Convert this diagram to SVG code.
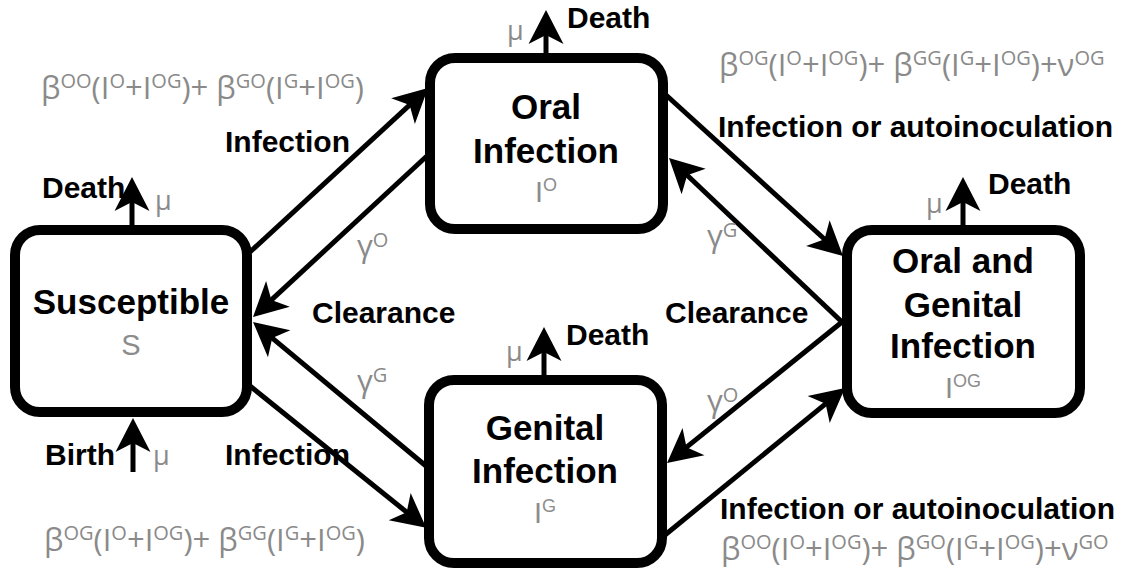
<svg xmlns="http://www.w3.org/2000/svg" width="1139" height="580" viewBox="0 0 1139 580">
<style>
.box{fill:#fff;stroke:#000;stroke-width:10}
.ttl{font-family:"Liberation Sans",Arial,sans-serif;font-weight:bold;font-size:35px;fill:#000;text-anchor:middle}
.sym{font-family:"Liberation Sans",Arial,sans-serif;font-size:29px;fill:#8c8c8c;text-anchor:middle}
.lbl{font-family:"Liberation Sans",Arial,sans-serif;font-weight:bold;font-size:30px;fill:#000}
.gr{font-family:"Open Sans","DejaVu Sans",sans-serif;font-size:31px;fill:#8a8a8a}
.mu{font-family:"Open Sans","DejaVu Sans",sans-serif;font-size:27px;fill:#8a8a8a}
.ln{stroke:#000;stroke-width:5;fill:none;marker-end:url(#ah)}
</style>
<defs>
<marker id="ah" markerUnits="userSpaceOnUse" viewBox="-36 -19 38 38" refX="-20" refY="0" markerWidth="38" markerHeight="38" orient="auto">
<path d="M0,0 L-34,-17.5 L-25,0 L-34,17.5 Z" fill="#000"/>
</marker>
</defs>
<g id="connectors">
<line class="ln" x1="250" y1="252" x2="413.3" y2="101.6"/>
<line class="ln" x1="428" y1="155" x2="267.7" y2="303.4"/>
<line class="ln" x1="426" y1="466" x2="268.4" y2="334.8"/>
<line class="ln" x1="250" y1="386" x2="410.6" y2="515.3"/>
<line class="ln" x1="666" y1="95" x2="828.2" y2="242.5"/>
<line class="ln" x1="842" y1="322" x2="683.5" y2="171.8"/>
<line class="ln" x1="842" y1="322" x2="682.6" y2="450.4"/>
<line class="ln" x1="665" y1="535" x2="829.5" y2="400.6"/>
<line class="ln" x1="132" y1="226" x2="132" y2="197"/>
<line class="ln" x1="546" y1="54" x2="546" y2="30"/>
<line class="ln" x1="544" y1="376" x2="544" y2="347"/>
<line class="ln" x1="963" y1="226" x2="963" y2="197"/>
<line class="ln" x1="133" y1="472" x2="133" y2="438"/>
<text class="lbl" x="225" y="152">Infection</text>
<text class="lbl" x="225" y="465">Infection</text>
<text class="lbl" x="312" y="323">Clearance</text>
<text class="lbl" x="665" y="323">Clearance</text>
<text class="lbl" x="718" y="137" font-size="31">Infection or autoinoculation</text>
<text class="lbl" x="720" y="519" font-size="31">Infection or autoinoculation</text>
<text class="lbl" x="42" y="198">Death</text>
<text class="lbl" x="45" y="465">Birth</text>
<text class="lbl" x="567" y="28">Death</text>
<text class="lbl" x="566" y="345">Death</text>
<text class="lbl" x="988" y="194">Death</text>
<text class="mu" x="155" y="210">μ</text>
<text class="mu" x="153" y="465">μ</text>
<text class="mu" x="507" y="40">μ</text>
<text class="mu" x="506" y="361">μ</text>
<text class="mu" x="926" y="213">μ</text>
<text class="gr" x="357" y="257">γ<tspan dy="-10" font-size="20">O</tspan></text>
<text class="gr" x="357" y="392">γ<tspan dy="-10" font-size="20">G</tspan></text>
<text class="gr" x="707" y="247">γ<tspan dy="-10" font-size="20">G</tspan></text>
<text class="gr" x="707" y="412">γ<tspan dy="-10" font-size="20">O</tspan></text>
<text class="gr" x="41" y="99">β<tspan dy="-11" font-size="20">OO</tspan><tspan dy="11">(I</tspan><tspan dy="-11" font-size="20">O</tspan><tspan dy="11">+I</tspan><tspan dy="-11" font-size="20">OG</tspan><tspan dy="11">)+ β</tspan><tspan dy="-11" font-size="20">GO</tspan><tspan dy="11">(I</tspan><tspan dy="-11" font-size="20">G</tspan><tspan dy="11">+I</tspan><tspan dy="-11" font-size="20">OG</tspan><tspan dy="11">)</tspan></text>
<text class="gr" x="719" y="76">β<tspan dy="-11" font-size="20">OG</tspan><tspan dy="11">(I</tspan><tspan dy="-11" font-size="20">O</tspan><tspan dy="11">+I</tspan><tspan dy="-11" font-size="20">OG</tspan><tspan dy="11">)+ β</tspan><tspan dy="-11" font-size="20">GG</tspan><tspan dy="11">(I</tspan><tspan dy="-11" font-size="20">G</tspan><tspan dy="11">+I</tspan><tspan dy="-11" font-size="20">OG</tspan><tspan dy="11">)+ν</tspan><tspan dy="-11" font-size="20">OG</tspan></text>
<text class="gr" x="44" y="551">β<tspan dy="-11" font-size="20">OG</tspan><tspan dy="11">(I</tspan><tspan dy="-11" font-size="20">O</tspan><tspan dy="11">+I</tspan><tspan dy="-11" font-size="20">OG</tspan><tspan dy="11">)+ β</tspan><tspan dy="-11" font-size="20">GG</tspan><tspan dy="11">(I</tspan><tspan dy="-11" font-size="20">G</tspan><tspan dy="11">+I</tspan><tspan dy="-11" font-size="20">OG</tspan><tspan dy="11">)</tspan></text>
<text class="gr" x="721" y="560">β<tspan dy="-11" font-size="20">OO</tspan><tspan dy="11">(I</tspan><tspan dy="-11" font-size="20">O</tspan><tspan dy="11">+I</tspan><tspan dy="-11" font-size="20">OG</tspan><tspan dy="11">)+ β</tspan><tspan dy="-11" font-size="20">GO</tspan><tspan dy="11">(I</tspan><tspan dy="-11" font-size="20">G</tspan><tspan dy="11">+I</tspan><tspan dy="-11" font-size="20">OG</tspan><tspan dy="11">)+ν</tspan><tspan dy="-11" font-size="20">GO</tspan></text>
</g>
<g id="node-S">
<rect class="box" x="15" y="230" width="232" height="182" rx="25"/>
<text class="ttl" x="131" y="314">Susceptible</text>
<text class="sym" x="131" y="355">S</text>
</g>
<g id="node-IO">
<rect class="box" x="430" y="58" width="233" height="171" rx="25"/>
<text class="ttl" x="546" y="119">Oral</text>
<text class="ttl" x="546" y="163">Infection</text>
<text class="sym" x="546" y="202">I<tspan dy="-11" font-size="18">O</tspan></text>
</g>
<g id="node-IG">
<rect class="box" x="429" y="380" width="233" height="183" rx="25"/>
<text class="ttl" x="545" y="440">Genital</text>
<text class="ttl" x="545" y="483">Infection</text>
<text class="sym" x="545" y="523">I<tspan dy="-11" font-size="18">G</tspan></text>
</g>
<g id="node-IOG">
<rect class="box" x="847" y="230" width="233" height="183" rx="25"/>
<text class="ttl" x="963" y="273">Oral and</text>
<text class="ttl" x="963" y="317">Genital</text>
<text class="ttl" x="963" y="358">Infection</text>
<text class="sym" x="963" y="398">I<tspan dy="-11" font-size="18">OG</tspan></text>
</g>
</svg>
